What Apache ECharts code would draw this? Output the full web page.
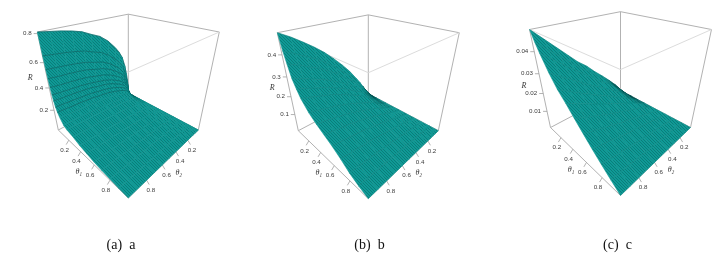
<!DOCTYPE html>
<html><head><meta charset="utf-8">
<style>html,body{margin:0;padding:0;background:#fff}#c{width:725px;height:255px}</style>
<script src="https://cdn.jsdelivr.net/npm/echarts@6/dist/echarts.min.js"></script>
</head><body><div id="c"></div>
<script>
// ---- values ----
const captions = ['(a)  a', '(b)  b', '(c)  c'];
const thetaTicks = [0.2, 0.4, 0.6, 0.8];
const rTicksA = [0.2, 0.4, 0.6, 0.8];
const rTicksB = [0.1, 0.2, 0.3, 0.4];
const rTicksC = [0.01, 0.02, 0.03, 0.04];
const rTopA = 0.81, rTopB = 0.49, rTopC = 0.049;

const theta1A = [0,.004,.008,.012,.018,.025,.035,.05,.07,.1,.15,.2,.3,.4,.5,.6,.7,.8,.9,1];
const theta2A = [0,.005,.015,.035,.06,.1,.15,.2,.3,.4,.5,.6,.7,.8,.9,1];
const surfaceA = [
[0,.073,.154,.243,.332,.429,.494,.543,.624,.680,.713,.749,.770,.786,.798,.81],
[0,.042,.109,.184,.258,.338,.391,.431,.497,.543,.570,.599,.616,.629,.639,.65],
[0,.028,.082,.148,.212,.28,.327,.361,.418,.458,.48,.505,.519,.531,.54,.55],
[0,.02,.065,.123,.179,.24,.282,.312,.362,.397,.417,.44,.452,.462,.469,.48],
[0,.013,.049,.098,.146,.199,.236,.263,.307,.337,.354,.374,.385,.393,.4,.41],
[0,.009,.036,.077,.119,.165,.197,.221,.259,.285,.301,.317,.327,.334,.34,.35],
[0,.006,.026,.06,.095,.135,.164,.185,.222,.246,.259,.275,.283,.29,.295,.3],
[0,.004,.018,.044,.072,.109,.134,.153,.182,.203,.215,.228,.235,.241,.246,.25],
[0,.002,.012,.032,.054,.086,.108,.124,.15,.168,.179,.19,.197,.202,.206,.21],
[0,.001,.008,.022,.04,.063,.082,.096,.118,.133,.143,.152,.158,.163,.167,.17],
[0,.001,.004,.013,.025,.041,.055,.066,.083,.095,.103,.111,.115,.119,.122,.125],
[0,.001,.003,.009,.017,.031,.042,.052,.067,.078,.085,.092,.096,.1,.102,.105],
[0,0,.002,.006,.012,.021,.031,.039,.052,.062,.069,.075,.079,.083,.085,.088],
[0,0,.001,.003,.007,.013,.019,.025,.034,.042,.047,.052,.055,.058,.06,.062],
[0,0,.001,.002,.004,.009,.013,.017,.024,.029,.033,.037,.039,.042,.043,.045],
[0,0,0,.001,.003,.005,.008,.01,.015,.018,.021,.023,.025,.027,.029,.03],
[0,0,0,.001,.002,.003,.005,.006,.009,.011,.013,.015,.016,.018,.019,.02],
[0,0,0,0,.001,.002,.003,.003,.005,.006,.007,.008,.009,.01,.011,.012],
[0,0,0,0,0,.001,.001,.001,.002,.003,.003,.004,.004,.004,.005,.005],
[0,0,0,0,0,0,0,0,0,0,0,0,0,0,0,0]];

const theta1B = [0,.03,.06,.1,.15,.2,.3,.4,.5,.6,.7,.8,.9,1];
const theta2B = [0,.03,.06,.1,.15,.2,.3,.4,.5,.6,.7,.8,.9,1];
const surfaceB = [
[0,.024,.046,.077,.114,.147,.211,.265,.314,.359,.397,.431,.463,.49],
[0,.018,.036,.064,.092,.123,.182,.225,.271,.307,.344,.369,.396,.42],
[0,.013,.03,.054,.078,.106,.159,.196,.238,.27,.302,.324,.349,.37],
[0,.01,.023,.042,.063,.086,.131,.162,.197,.225,.252,.271,.292,.31],
[0,.007,.018,.034,.052,.073,.111,.139,.171,.195,.219,.236,.254,.27],
[0,.005,.014,.028,.044,.061,.095,.12,.147,.168,.19,.205,.221,.235],
[0,.003,.01,.02,.032,.047,.074,.095,.117,.135,.152,.165,.178,.19],
[0,.002,.007,.015,.025,.037,.06,.078,.097,.112,.128,.139,.15,.16],
[0,.002,.005,.012,.02,.03,.049,.064,.08,.094,.107,.116,.126,.135],
[0,.001,.004,.009,.015,.023,.039,.051,.065,.075,.086,.094,.103,.11],
[0,.001,.003,.006,.011,.016,.027,.036,.046,.054,.062,.068,.074,.08],
[0,0,.001,.003,.006,.009,.015,.02,.026,.03,.035,.038,.042,.045],
[0,0,.001,.001,.002,.004,.006,.009,.011,.013,.015,.017,.019,.02],
[0,0,0,0,0,0,0,0,0,0,0,0,0,0]];

const theta1C = [0,.05,.1,.2,.3,.4,.5,.6,.7,.8,.9,1];
const theta2C = [0,.1,.2,.3,.4,.5,.6,.7,.8,.9,1];
const surfaceC = [
[0,.0065,.0115,.0162,.0206,.0255,.0294,.0343,.0392,.0441,.049],
[0,.0056,.0102,.0146,.0187,.0231,.0267,.0311,.0356,.04,.0445],
[0,.005,.0092,.0132,.0168,.021,.0243,.0283,.0324,.0366,.0407],
[0,.0038,.0074,.0107,.0139,.0173,.0201,.0236,.0271,.0305,.034],
[0,.003,.006,.0087,.0115,.0144,.0168,.0197,.0226,.0255,.0285],
[0,.0024,.005,.0074,.0097,.0122,.0143,.0168,.0193,.0218,.0245],
[0,.0019,.004,.0059,.0078,.0099,.0115,.0136,.0157,.0178,.02],
[0,.0014,.003,.0046,.006,.0077,.0089,.0107,.0123,.014,.0157],
[0,.001,.0021,.0032,.0043,.0055,.0064,.0077,.009,.0102,.0115],
[0,.0006,.0014,.0021,.0028,.0035,.0041,.005,.0058,.0066,.0075],
[0,.0003,.0007,.001,.0014,.0017,.002,.0025,.0029,.0033,.0037],
[0,0,0,0,0,0,0,0,0,0,0]];

// ---- layout and view ----
const VIEW = {a:-.228, c:-.178, X:54.04, Y0:93, Yv:7.36, Yf:-81.35};
const panels = [
 {cx:128.3, dy:0,   t1:theta1A, t2:theta2A, s:surfaceA, rt:rTicksA, top:rTopA, dec:1, cap:captions[0], capX:121, rowA:.55, rowCut:.1, rLab:[-98,77.7]},
 {cx:368.3, dy:.7,  t1:theta1B, t2:theta2B, s:surfaceB, rt:rTicksB, top:rTopB, dec:1, cap:captions[1], capX:369.5, rowA:.22, rowCut:2, rLab:[-96,87.5]},
 {cx:620.5, dy:-2.5,t1:theta1C, t2:theta2C, s:surfaceC, rt:rTicksC, top:rTopC, dec:2, cap:captions[2], capX:617.5, rowA:.18, rowCut:2, rLab:[-96.5,88]}
];
function project(p,u,v,f){
  const w = 1 + VIEW.a*(u+v) + VIEW.c*f;
  return [p.cx + VIEW.X*(u-v)/w, p.dy + (VIEW.Y0 + VIEW.Yv*(u+v) + VIEW.Yf*f)/w];
}
const BASE = '#0f9a96';
function texture(){
  const cv = document.createElement('canvas'); cv.width = cv.height = 3;
  const g = cv.getContext('2d');
  g.fillStyle = BASE; g.fillRect(0,0,3,3);
  g.fillStyle = 'rgba(0,60,60,.3)';
  g.fillRect(0,0,1,1); g.fillRect(1,1,1,1); g.fillRect(2,2,1,1);
  return cv;
}
const tex = texture();
const FONT = '"Liberation Sans",Arial,sans-serif';

function surfaceSeries(p){
  const data = [];
  for(let i=0;i<p.t1.length-1;i++) for(let j=0;j<p.t2.length-1;j++) data.push([i,j]);
  const fp = (api,i,j)=>api.coord(project(p,p.t1[i],p.t2[j],p.s[i][j]/p.top));
  return {type:'custom',coordinateSystem:'cartesian2d',silent:true,clip:false,z:3,animation:false,
    data, renderItem(params,api){
      const i=api.value(0), j=api.value(1);
      const a=fp(api,i,j), b=fp(api,i,j+1), c=fp(api,i+1,j+1), d=fp(api,i+1,j);
      const strong = p.t1[i] < p.rowCut;
      // mesh lines crowd where a cell is seen edge-on: darken by parameter area per screen area
      const area = Math.abs((c[0]-a[0])*(d[1]-b[1])-(d[0]-b[0])*(c[1]-a[1]))/2;
      const density = (p.t1[i+1]-p.t1[i])*(p.t2[j+1]-p.t2[j])/Math.max(area,1e-3);
      const shade = Math.max(0,Math.min(.8,(density/1e-4-3.2)*.1));
      const kids = [
        {type:'polygon',shape:{points:[a,b,c,d]},style:{fill:{image:tex,repeat:'repeat'},stroke:BASE,lineWidth:.6}},
        {type:'line',shape:{x1:a[0],y1:a[1],x2:b[0],y2:b[1]},
          style:{stroke:'rgba(0,45,50,'+(strong?p.rowA:.1)+')',lineWidth:.7,fill:null}},
        {type:'line',shape:{x1:a[0],y1:a[1],x2:d[0],y2:d[1]},
          style:{stroke:'rgba(0,45,50,.08)',lineWidth:.6,fill:null}}
      ];
      if(shade>0) kids.push({type:'polygon',shape:{points:[a,b,c,d]},style:{fill:'rgba(0,25,28,'+shade+')',stroke:'rgba(0,25,28,'+shade+')',lineWidth:.5}});
      return {type:'group',children:kids};
    }};
}
function boxSeries(p){
  const C = {A:[0,1,0],B:[1,1,0],Cc:[1,0,0],D:[0,0,0],E:[0,1,1],F:[1,0,1],G:[0,0,1],H:[1,1,1]};
  const edges = [['E','G',0],['G','F',0],['G','D',0],['F','Cc',0],['E','A',0],['A','D',0],['D','Cc',0],['A','B',0],['B','Cc',0],['E','H',1],['F','H',1]];
  return {type:'custom',coordinateSystem:'cartesian2d',silent:true,clip:false,z:1,animation:false,
    data:edges.map((e,k)=>[k]), renderItem(params,api){
      const e=edges[api.value(0)];
      const a=api.coord(project(p,...C[e[0]])), b=api.coord(project(p,...C[e[1]]));
      return {type:'line',shape:{x1:a[0],y1:a[1],x2:b[0],y2:b[1]},
        style:{stroke:e[2]?'#dcdcdc':'#b2b2b2',lineWidth:1,fill:null}};
    }};
}
function tickSeries(p){
  const items=[];
  thetaTicks.forEach(t=>{items.push({k:'t1',t});items.push({k:'t2',t});});
  p.rt.forEach(t=>items.push({k:'r',t}));
  items.push({k:'nR'},{k:'n1'},{k:'n2'});
  return {type:'custom',coordinateSystem:'cartesian2d',silent:true,clip:false,z:2,animation:false,
    data:items.map((e,k)=>[k]), renderItem(params,api){
      const it=items[api.value(0)];
      const txt=(x,y,s,align,o)=>Object.assign({type:'text',x,y,style:{text:s,fontSize:6.2,fontFamily:FONT,fill:'#3c3c3c',align:align||'center',verticalAlign:'middle'}},o||{});
      const tick=(a,dx,dy)=>({type:'line',shape:{x1:a[0],y1:a[1],x2:a[0]+dx,y2:a[1]+dy},style:{stroke:'#a0a0a0',lineWidth:.8,fill:null}});
      if(it.k==='t1'){const a=api.coord(project(p,it.t,1,0));
        return {type:'group',children:[tick(a,-2.6,4.4),txt(a[0]-4.2,a[1]+10,it.t.toFixed(1))]};}
      if(it.k==='t2'){const a=api.coord(project(p,1,it.t,0));
        return {type:'group',children:[tick(a,2.6,4.4),txt(a[0]+4.2,a[1]+10,it.t.toFixed(1))]};}
      if(it.k==='r'){const a=api.coord(project(p,0,1,it.t/p.top));
        return {type:'group',children:[tick(a,-4,0),txt(a[0]-6,a[1],it.t.toFixed(p.dec),'right')]};}
      const q=(dx,y)=>api.coord([p.cx+dx,p.dy+y]);
      const it2=(c,s)=>{const o=txt(c[0],c[1],s);o.style.fontStyle='italic';o.style.fontSize=8;o.style.fontFamily='"Liberation Serif",serif';o.style.fill='#333';return o;};
      if(it.k==='nR') return it2(q(p.rLab[0],p.rLab[1]),'R');
      if(it.k==='n1') return it2(q(-49.5,172),'θ₁');
      return it2(q(50.5,172.5),'θ₂');
    }};
}
const series=[];
panels.forEach(p=>{series.push(boxSeries(p),tickSeries(p),surfaceSeries(p));});

const chart = echarts.init(document.getElementById('c'),null,{renderer:'canvas',width:725,height:255});
chart.setOption({
  animation:false, backgroundColor:'#fff',
  grid:{left:0,right:0,top:0,bottom:0},
  xAxis:{type:'value',min:0,max:725,show:false},
  yAxis:{type:'value',min:0,max:255,inverse:true,show:false},
  title:panels.map(p=>({text:p.cap,left:p.capX,top:238,padding:0,textAlign:'center',
    textStyle:{fontFamily:'"Liberation Serif",serif',fontSize:14,fontWeight:'normal',color:'#111'}})),
  series
});
</script></body></html>
